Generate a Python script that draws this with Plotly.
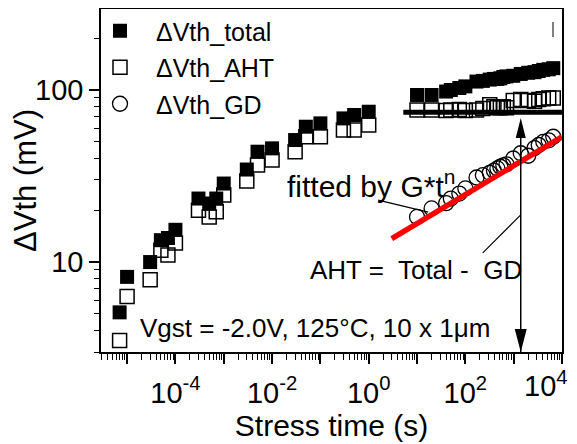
import math
import plotly.graph_objects as go

# ---------------- data (stress time in s, shift in mV) ----------------
t_short = [7e-6, 1e-5, 3e-5, 5e-5, 7e-5, 1e-4, 3e-4, 5e-4, 7e-4, 1e-3,
           3e-3, 5e-3, 1e-2, 3e-2, 5e-2, 0.1, 0.3, 0.5, 1.0]
total_short = [5.1, 8.2, 10.0, 13.4, 13.8, 15.4, 23.4, 21.9, 23.4, 28.6,
               34.5, 43.8, 45.8, 51.2, 61.2, 64.0, 68.4, 71.6, 74.8]
aht_short = [3.5, 6.3, 7.9, 11.7, 11.0, 12.9, 20.0, 18.3, 19.6, 24.5,
             29.6, 36.6, 39.2, 43.8, 53.5, 53.5, 58.5, 58.5, 62.7]

t_long = [10, 20, 40, 50, 75, 100, 170, 230, 320, 390, 460, 530, 610, 710,
          980, 1400, 2000, 2700, 3300, 4100, 5300, 6600]
total_long = [93.6, 93.6, 98, 100, 102.7, 105, 112, 113, 115, 116, 116, 117,
              119, 120, 121, 124, 126, 127, 129, 131, 132, 134]
aht_long = [76.6, 76.6, 76, 76.5, 77, 76, 76.5, 78, 82, 80, 79, 79, 80, 79,
            87, 88, 87, 86, 88, 89, 90, 90]
gd_long = [18.3, 20.5, 22, 23.4, 25, 26.8, 31, 32, 33, 34, 35, 35.8, 36.5, 37,
           40, 42.9, 41.5, 46, 47.9, 50, 51, 53.5]

# fitted power law G*t^n (two end points of the straight log-log line)
fit_t = [3.0, 1e4]
fit_v = [13.7, 53.5]

# saturated AHT level
level_t = [5.2, 1e4]
level_v = [74.2, 74.2]

# decomposition arrow
arrow_t = 1400
arrow_v_top = 68.7
arrow_v_bottom = 3.0

# pointer lines: (t, V) target and (dx, dy) pixel offset of the tail
fit_pointer = (17, 19.5, -50, 12)
aht_pointer = (1400, 18.8, -38, -38)

x_tickvals = [1e-5, 1e-4, 1e-3, 1e-2, 1e-1, 1e0, 1e1, 1e2, 1e3, 1e4]
x_ticktext = ["", "10<sup>-4</sup>", "", "10<sup>-2</sup>", "", "10<sup>0</sup>",
              "", "10<sup>2</sup>", "", ""]
x_last_label = "10<sup>4</sup>"   # drawn inset so it stays inside the picture
y_tickvals = [10, 100]
y_ticktext = ["10", "100"]

X_RANGE = [-5.54, 4.0]
Y_RANGE = [math.log10(3.0), 2.471]

minor_x = [m * 10.0 ** e for e in range(-6, 4) for m in range(2, 10)]
minor_y = [m * 10.0 ** e for e in range(0, 3) for m in range(2, 10)]

# page body has an 8px margin: size the figure so it fits the 577x444 window
OFF = 8
W, H = 577 - OFF, 444 - OFF
PL, PR, PT, PB = 101, 562, 9, 352          # plot area in window pixels
ML, MT = PL - OFF, PT - OFF
MR, MB = W - (PR - OFF), H - (PB - OFF)
PW, PH = PR - PL, PB - PT


def xp(t):
    return (math.log10(t) - X_RANGE[0]) / (X_RANGE[1] - X_RANGE[0])


def yp(v):
    return (math.log10(v) - Y_RANGE[0]) / (Y_RANGE[1] - Y_RANGE[0])


def px_x(px):
    return (px - PL) / PW


def px_y(py):
    return (PB - py) / PH


FONT = "Liberation Sans, Arial, sans-serif"
TICK_SIZE = 29

fig = go.Figure()
fig.add_trace(go.Scatter(
    x=t_short + t_long, y=aht_short + aht_long, mode="markers", name="ΔVth_AHT",
    legendgroup="b", legendrank=2,
    marker=dict(symbol="square-open", size=14, color="black", line=dict(width=1.5))))
fig.add_trace(go.Scatter(
    x=t_short + t_long, y=total_short + total_long, mode="markers", name="ΔVth_total",
    legendgroup="a", legendrank=1,
    marker=dict(symbol="square", size=14, color="black", line=dict(width=0))))
fig.add_trace(go.Scatter(
    x=t_long, y=gd_long, mode="markers", name="ΔVth_GD",
    legendgroup="c", legendrank=3,
    marker=dict(symbol="circle-open", size=15, color="black", line=dict(width=1.3))))
fig.add_trace(go.Scatter(
    x=fit_t, y=fit_v, mode="lines", showlegend=False,
    line=dict(color="#ff0000", width=5.5)))
fig.add_trace(go.Scatter(
    x=level_t, y=level_v, mode="lines", showlegend=False,
    line=dict(color="black", width=5)))

axis_common = dict(
    type="log", showgrid=False, zeroline=False,
    showline=True, linecolor="black", linewidth=1.5, mirror=True,
    ticks="outside", ticklen=10, tickwidth=1.5, tickcolor="black",
    tickmode="array",
    tickfont=dict(size=TICK_SIZE, color="black", family=FONT),
)

fig.update_layout(
    width=W, height=H, autosize=False,
    margin=dict(l=ML, r=MR, t=MT, b=MB, autoexpand=False),
    paper_bgcolor="white", plot_bgcolor="white",
    font=dict(family=FONT, color="black"),
    xaxis=dict(
        axis_common, range=X_RANGE, tickvals=x_tickvals, ticktext=x_ticktext,
        ticklabelstandoff=4,
        minor=dict(tickvals=minor_x, ticks="outside", ticklen=6, tickwidth=1.2,
                   tickcolor="black", showgrid=False),
        title=dict(text="Stress time (s)", font=dict(size=30, family=FONT), standoff=7),
    ),
    yaxis=dict(
        axis_common, range=Y_RANGE, tickvals=y_tickvals, ticktext=y_ticktext,
        minor=dict(tickvals=minor_y, ticks="outside", ticklen=5, tickwidth=1.2,
                   tickcolor="black", showgrid=False),
        title=dict(text="ΔVth (mV)", font=dict(size=31, family=FONT), standoff=4),
    ),
    legend=dict(
        x=px_x(84), y=px_y(8), xanchor="left", yanchor="top",
        bgcolor="rgba(0,0,0,0)", borderwidth=0,
        font=dict(size=25, family=FONT, color="black"),
        itemwidth=62, tracegroupgap=1, traceorder="grouped",
    ),
    showlegend=True,
)

annotations = [
    dict(text="fitted by G*t<sup>n</sup>", x=px_x(285), y=px_y(184),
         xref="paper", yref="paper", xanchor="left", yanchor="middle",
         showarrow=False, font=dict(size=30, family=FONT)),
    dict(text="AHT =&nbsp; Total -&nbsp; GD", x=px_x(308), y=px_y(270),
         xref="paper", yref="paper", xanchor="left", yanchor="middle",
         showarrow=False, font=dict(size=26, family=FONT)),
    dict(text="Vgst = -2.0V, 125°C, 10 x 1μm", x=px_x(138), y=px_y(328),
         xref="paper", yref="paper", xanchor="left", yanchor="middle",
         showarrow=False, font=dict(size=26, family=FONT)),
    dict(text=x_last_label, x=px_x(569), y=px_y(365),
         xref="paper", yref="paper", xanchor="right", yanchor="top",
         showarrow=False, borderpad=0, font=dict(size=TICK_SIZE, family=FONT)),
]
fig.update_layout(annotations=annotations)


def pointer_shape(p):
    x_end, y_end = xp(p[0]), yp(p[1])
    return dict(type="line", xref="paper", yref="paper",
                x0=x_end + p[2] / PW, y0=y_end + p[3] / PH, x1=x_end, y1=y_end,
                line=dict(color="black", width=1.2))


shapes = [
    dict(type="line", xref="paper", yref="paper",
         x0=xp(arrow_t), x1=xp(arrow_t), y0=yp(arrow_v_bottom), y1=yp(arrow_v_top) - 0.03,
         line=dict(color="black", width=1.5)),
    dict(type="path", xref="paper", yref="paper", xsizemode="pixel", ysizemode="pixel",
         xanchor=xp(arrow_t), yanchor=yp(arrow_v_top),
         path="M0,0 L-5,-20 L5,-20 Z", fillcolor="black", line=dict(width=0)),
    dict(type="path", xref="paper", yref="paper", xsizemode="pixel", ysizemode="pixel",
         xanchor=xp(arrow_t), yanchor=yp(arrow_v_bottom),
         path="M0,0 L-6,23 L6,23 Z", fillcolor="black", line=dict(width=0)),
    pointer_shape(fit_pointer),
    pointer_shape(aht_pointer),
    dict(type="line", xref="paper", yref="paper",
         x0=px_x(553), x1=px_x(553), y0=px_y(37), y1=px_y(22),
         line=dict(color="black", width=1)),
]
fig.update_layout(shapes=shapes)

fig.write_html("out.html")
